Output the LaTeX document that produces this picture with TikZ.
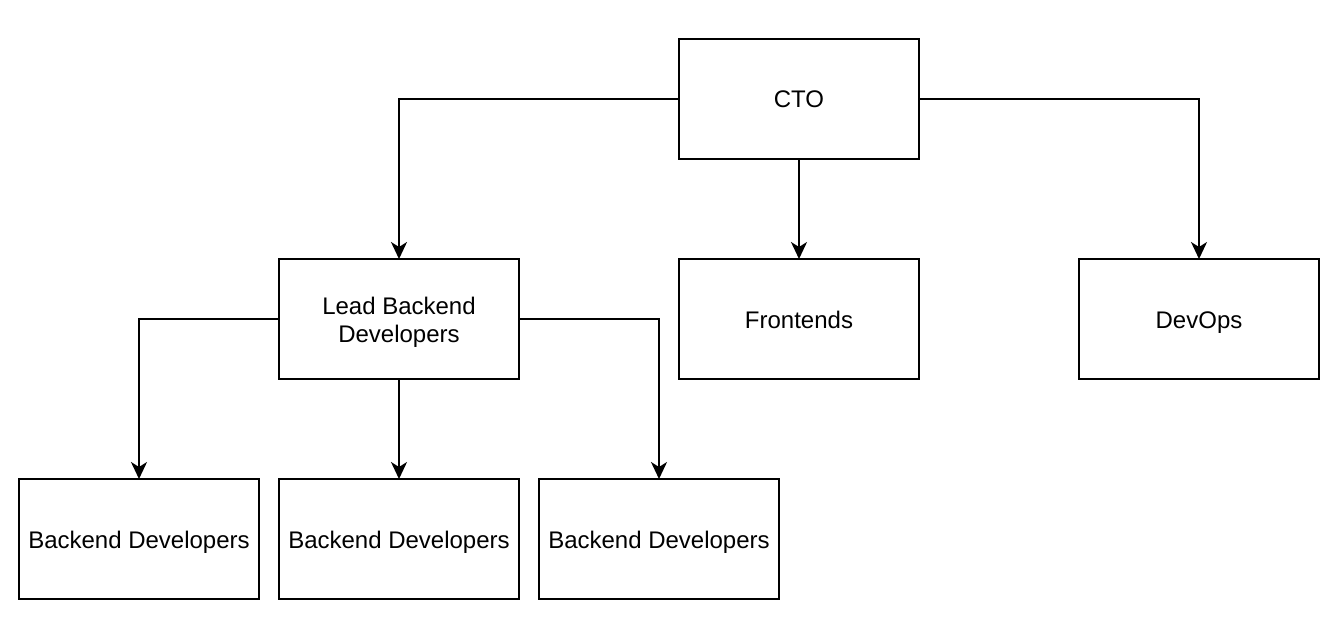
\documentclass[tikz,border=0pt]{standalone}
\usepackage{fontspec}
\setmainfont{Liberation Sans}
\usepackage{tikz}
\usetikzlibrary{arrows.meta, positioning}

\begin{document}
\begin{tikzpicture}[
    x=1pt, y=-1pt,
    node distance=100pt and 160pt,
    box/.style={rectangle, draw, line width=2pt, minimum width=240pt,
                minimum height=120pt, align=center, inner sep=2pt,
                outer sep=0pt, text height=23pt, text depth=5pt,
                font=\fontsize{24}{28}\selectfont},
    arrow/.style={-{Stealth[length=17pt, width=16pt, inset=5pt]}, line width=2pt},
  ]
  \useasboundingbox (0,0) rectangle (1340,620);

  % Top
  \node[box] (cto) at (799,99) {CTO};

  % Second row
  \node[box, below=of cto] (front) {Frontends};
  \node[box, left=of front, text height=51pt] (lead) {Lead Backend\\Developers};
  \node[box, right=of front] (devops) {DevOps};

  % Third row
  \node[box, below=of lead] (back2) {Backend Developers};
  \node[box, left=20pt of back2] (back1) {Backend Developers};
  \node[box, right=20pt of back2] (back3) {Backend Developers};

  % Arrows
  \draw[arrow] (cto.west) -| (lead.north);
  \draw[arrow] (cto) -- (front);
  \draw[arrow] (cto.east) -| (devops.north);
  \draw[arrow] (lead.west) -| (back1.north);
  \draw[arrow] (lead) -- (back2);
  \draw[arrow] (lead.east) -| (back3.north);
\end{tikzpicture}
\end{document}
